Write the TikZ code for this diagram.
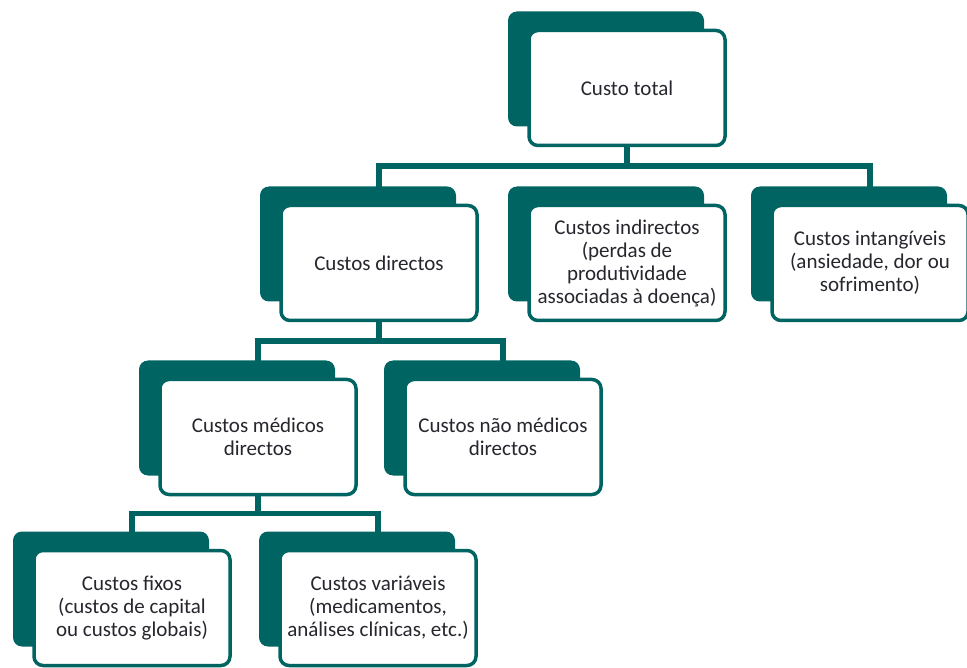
\documentclass[tikz,border=0pt]{standalone}
\usepackage{fontspec}
\setmainfont{Carlito}
\usepackage{xcolor}
\usepackage{tikz}
\usetikzlibrary{positioning,shadows,backgrounds,calc}
\definecolor{tealdark}{RGB}{0,101,98}
\definecolor{inkgray}{RGB}{38,38,46}

\begin{document}
\begin{tikzpicture}[
  x=1pt, y=-1pt,
  cost/.style={draw=tealdark, line width=3.5pt, rounded corners=9pt, fill=white, align=center, minimum width=196pt, minimum height=115pt, text=inkgray, font=\fontsize{21}{23}\selectfont, general shadow={fill=tealdark, shadow xshift=-21pt, shadow yshift=19pt}},
  link/.style={draw=tealdark, line width=5.5pt}
]
\useasboundingbox (0,0) rectangle (967,668);

\node[cost] (total) at (627,88) {Custo total};
\node[cost] (dir) at (379,263) {Custos directos};
\node[cost] (indir) at (627,263) {Custos indirectos\\(perdas de\\produtividade\\associadas à doença)};
\node[cost] (intang) at (870,263) {Custos intangíveis\\(ansiedade, dor ou\\sofrimento)};
\node[cost] (med) at (258,437) {Custos médicos\\directos};
\node[cost] (naomed) at (503,437) {Custos não médicos\\directos};
\node[cost] (fixos) at (132,608) {Custos fixos\\(custos de capital\\ou custos globais)};
\node[cost] (var) at (378,608) {Custos variáveis\\(medicamentos,\\análises clínicas, etc.)};

\begin{scope}[on background layer]
\draw[link] (total.south) -- ++(0,19) coordinate (bartop);
\draw[link] (dir.north) |- (bartop) -| (intang.north);
\draw[link] (dir.south) -- ++(0,19) coordinate (barmid);
\draw[link] (med.north) |- (barmid) -| (naomed.north);
\draw[link] (med.south) -- ++(0,17) coordinate (barlow);
\draw[link] (fixos.north) |- (barlow) -| (var.north);
\end{scope}
\end{tikzpicture}
\end{document}
